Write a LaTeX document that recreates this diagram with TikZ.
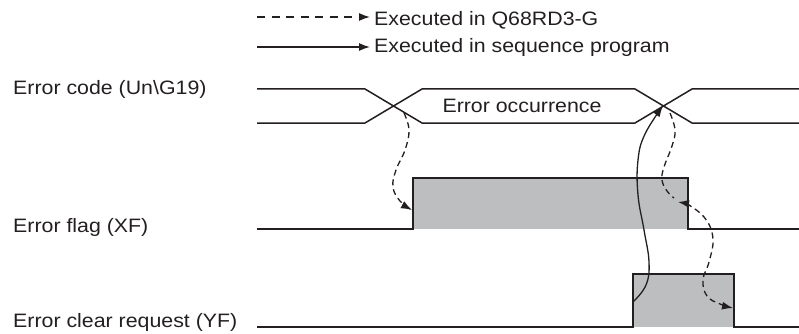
\documentclass[tikz,border=0pt]{standalone}
\usepackage{fontspec}
\setmainfont{Liberation Sans}[FakeStretch=1.1]
\usetikzlibrary{arrows.meta}
\definecolor{flaggray}{HTML}{BCBEC0}
\definecolor{ink}{HTML}{231F20}
\begin{document}
\begin{tikzpicture}[x=1pt,y=-1pt,
  sig/.style={line width=1.5pt,draw=ink},
  tip/.tip={Latex[length=11pt,width=8pt]},
  dasharrow/.style={line width=1.3pt,draw=ink,dash pattern=on 6pt off 4pt},
  solidarrow/.style={line width=1.3pt,draw=ink},
  lbl/.style={anchor=base west,inner sep=0pt,text=ink,font=\fontsize{19.4}{22}\selectfont}]
\useasboundingbox (0,0) rectangle (799,334);

% legend
\coordinate (ld1) at (257,17);
\coordinate (ld2) at (370,17);
\coordinate (ls1) at (257,47);
\coordinate (ls2) at (370,47);
\draw[dasharrow,dash pattern=on 8pt off 6.5pt,-tip] (ld1) -- (ld2);
\draw[solidarrow,-tip] (ls1) -- (ls2);
\node[lbl] (leg1) at (374,26) {Executed in Q68RD3-G};
\node[lbl] (leg2) at (374,53) {Executed in sequence program};

% signal labels
\node[lbl] (lcode) at (13,95) {Error code (Un\textbackslash G19)};
\node[lbl] (lflag) at (13,232) {Error flag (XF)};
\node[lbl] (lclr) at (13,327) {Error clear request (YF)};

% error code bus
\draw[sig] (257,89) -- (365,89) -- (422,123) -- (635,123) -- (692,89) -- (799,89);
\draw[sig] (257,123) -- (365,123) -- (422,89) -- (635,89) -- (692,123) -- (799,123);
\node[lbl,anchor=base] (occ) at (522,113) {Error occurrence};
\coordinate (x1) at (393,106);
\coordinate (x2) at (663,106);

% error flag
\fill[flaggray] (413,178) rectangle (688,229);
\draw[sig] (257,229) -- (413,229) -- (413,178) -- (688,178) -- (688,229) -- (799,229);

% error clear request
\fill[flaggray] (633,274) rectangle (734,327);
\draw[sig] (257,327) -- (633,327) -- (633,274) -- (734,274) -- (734,327) -- (799,327);

% arrows
\draw[dasharrow,-tip] plot[smooth,tension=0.7] coordinates
  {(404,113) (409,130) (405,150) (396,170) (393,187) (400,201) (412,210)};
\draw[solidarrow,-tip] plot[smooth,tension=0.7] coordinates
  {(633,302) (646,285) (649,262) (644,230) (638,195) (638,160) (645,134) (663,106)};
\draw[dasharrow] plot[smooth,tension=0.7] coordinates
  {(670,113) (675,130) (672,146) (664,167) (662,180) (667,191) (674,198)};
\draw[dasharrow,tip-tip] plot[smooth,tension=0.7] coordinates
  {(678,202) (692,207) (707,221) (713,240) (709,262) (703,280) (707,296) (720,304) (733,308)};
\end{tikzpicture}
\end{document}
